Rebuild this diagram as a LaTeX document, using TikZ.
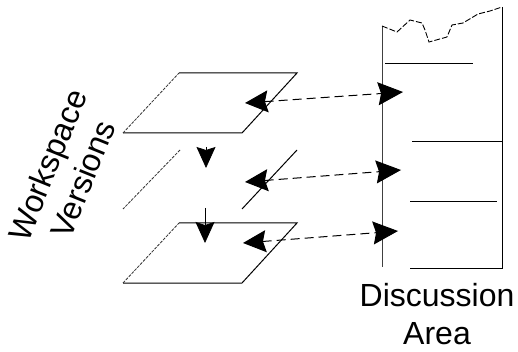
\documentclass[tikz,border=0pt]{standalone}
\usepackage{fontspec}
\setmainfont{Liberation Sans}
\usetikzlibrary{arrows.meta}
\begin{document}
\begin{tikzpicture}[x=1pt,y=-1pt,
  plane/.style={line width=1pt},
  faint/.style={line width=0.8pt, dash pattern=on 3pt off 1.2pt, black!80},
  link/.style={line width=1pt, dash pattern=on 9pt off 5pt,
     {Stealth[length=23pt,width=22pt,inset=3pt]}-{Stealth[length=25pt,width=23pt,inset=3pt]}},
  down/.style={line width=0.8pt, -{Stealth[length=21pt,width=19pt,inset=3pt]}},
  label/.style={font=\fontsize{32}{38}\selectfont, align=center, inner sep=0pt}]
\useasboundingbox (0,0) rectangle (518,352);
% top plane
\coordinate (t1) at (179,73); \coordinate (t2) at (297,73);
\coordinate (t3) at (242,133); \coordinate (t4) at (123,133);
\draw[plane] (t1) -- (t2) -- (t3) -- (t4);
\draw[faint] (t4) -- (t1);
% middle plane (edges only)
\coordinate (m1) at (180,150); \coordinate (m4) at (123,209);
\coordinate (m2) at (297,150); \coordinate (m3) at (242,209);
\draw[faint] (m1) -- (m4);
\draw[plane] (m2) -- (m3);
% bottom plane
\coordinate (b1) at (179,223); \coordinate (b2) at (297,223);
\coordinate (b3) at (242,283); \coordinate (b4) at (123,283);
\draw[plane] (b1) -- (b2) -- (b3) -- (b4);
\draw[faint] (b4) -- (b1);
% down arrows
\coordinate (d1s) at (206,147); \coordinate (d1e) at (206,168);
\coordinate (d2s) at (205,208); \coordinate (d2e) at (205,243);
\draw[down] (d1s) -- (d1e);
\draw[down] (d2s) -- (d2e);
% discussion area
\coordinate (lt) at (382,26); \coordinate (lb) at (382,267);
\coordinate (rt) at (502,7); \coordinate (rb) at (502,268);
\draw[line width=1pt, black!75] (lt) -- (lb);
\draw[line width=1pt] (rt) -- (rb) -- (410,268);
\draw[line width=0.9pt, dash pattern=on 6pt off 2pt]
  (lt) -- (397,32) -- (410,20) -- (422,23) -- (425,30) -- (429,42) -- (447,37)
  -- (452,25) -- (463,23) -- (478,14) -- (490,11) -- (rt);
\draw[line width=1pt] (385,64) -- (473,64);
\draw[line width=1pt] (412,142) -- (rb |- 0,142);
\draw[line width=1pt] (410,202) -- (497,202);
% dashed links
\coordinate (a1) at (245,103); \coordinate (c1) at (403,92);
\coordinate (a2) at (245,182); \coordinate (c2) at (401,170);
\coordinate (a3) at (243,243); \coordinate (c3) at (398,231);
\draw[link] (a1) -- (c1);
\draw[link] (a2) -- (c2);
\draw[link] (a3) -- (c3);
% labels
\node[label] (disc) at (437,314) {Discussion\\Area};
\node[label, rotate=68] (ws) at (65,172) {Workspace\\Versions};
\end{tikzpicture}
\end{document}
